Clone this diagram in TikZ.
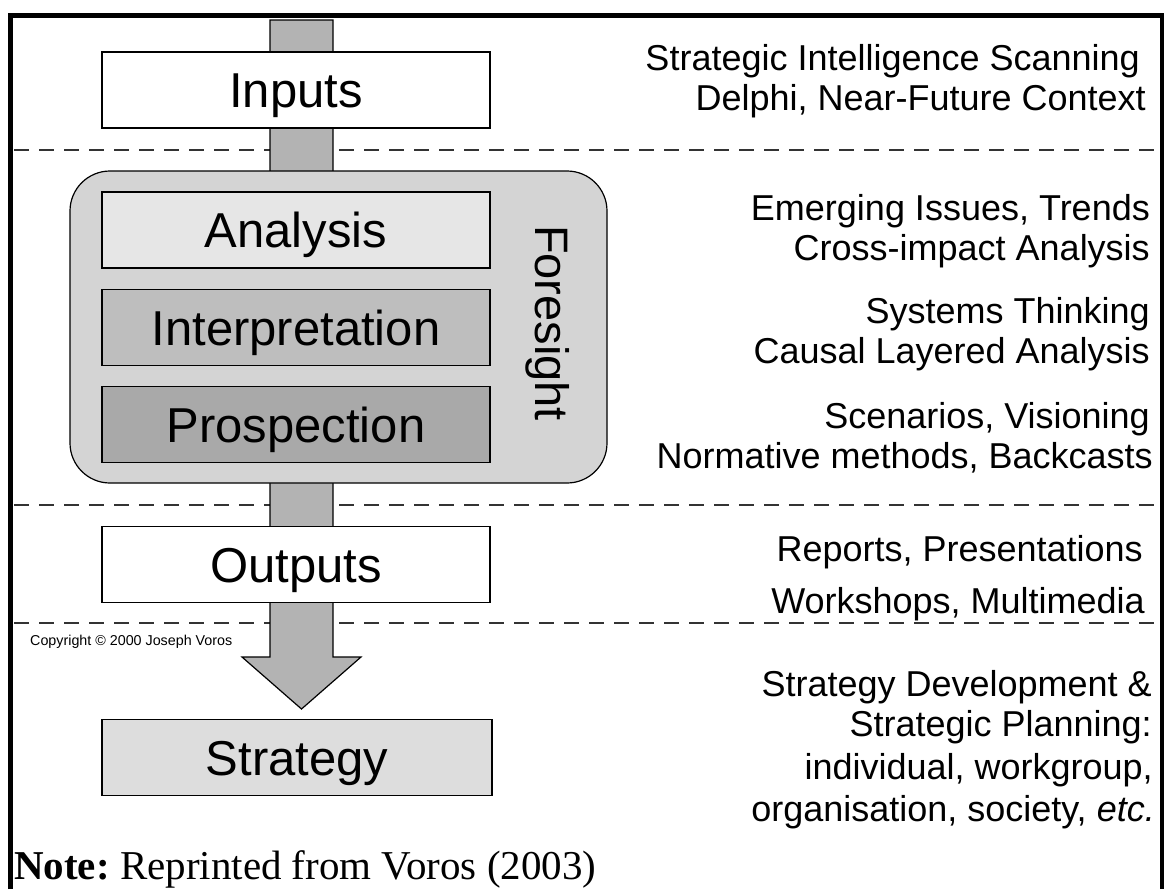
\documentclass[tikz,border=0pt]{standalone}
\usepackage{fontspec}
\setmainfont{Liberation Sans}
\newfontfamily\notefont{Liberation Serif}
\definecolor{barc}{HTML}{B3B3B3}
\definecolor{forec}{HTML}{D4D4D4}
\definecolor{anac}{HTML}{E6E6E6}
\definecolor{intc}{HTML}{BEBEBE}
\definecolor{prosc}{HTML}{A9A9A9}
\definecolor{stratc}{HTML}{DDDDDD}
\begin{document}
\begin{tikzpicture}[x=1pt,y=-1pt,
  lbl/.style={font=\fontsize{49}{55}\selectfont, text height=35pt, text depth=0pt, inner sep=0pt},
  box/.style={draw=black, line width=1.2pt, minimum width=388pt, minimum height=76pt, lbl},
  side/.style={font=\fontsize{36}{40}\selectfont, anchor=base east, inner sep=0pt},
  sepline/.style={draw=black!80, line width=2.5pt, dash pattern=on 15pt off 10pt},
  frame/.style={draw=black, line width=4.5pt}]
\useasboundingbox (0,0) rectangle (1167,889);
% separators
\draw[sepline] (14,150) -- (1160,150);
\draw[sepline] (14,505) -- (1160,505);
\draw[sepline] (14,623) -- (1160,623);
% frame
\draw[frame] (10.5,889) -- (10.5,15.5) -- (1162,15.5) -- (1162,889);
% flow bar with arrow head
\coordinate (bartop) at (301.5,20);
\draw[fill=barc, line width=1.2pt, line join=miter]
  (270,20) -- (333,20) -- (333,657) -- (361,657) -- (301.5,709) -- (242,657) -- (270,657) -- cycle;
% foresight container
\node[draw=black, line width=1.2pt, rounded corners=40pt, fill=forec,
      minimum width=537pt, minimum height=312pt, inner sep=0pt] (foresight) at (338.5,327) {};
% boxes
\node[box, fill=white] (inputs) at (296,90) {Inputs};
\node[box, fill=anac] (analysis) at (296,230) {Analysis};
\node[box, fill=intc] (interp) at (296,327.5) {Interpretation};
\node[box, fill=prosc] (prosp) at (296,424.5) {Prospection};
\node[box, fill=white] (outputs) at (296,564.5) {Outputs};
\node[box, fill=stratc, minimum width=390pt] (strategy) at (297,757.5) {Strategy};
% foresight label
\node[font=\fontsize{47}{52}\selectfont, inner sep=0pt, rotate=-90, anchor=base] (forelbl) at (535,323) {Foresight};
% right-hand texts
\node[side] (t1) at (1140,70) {Strategic Intelligence Scanning};
\node[side] (t2) at (1146,110) {Delphi, Near-Future Context};
\node[side] (t3) at (1150,220) {Emerging Issues, Trends};
\node[side] (t4) at (1150,260) {Cross-impact Analysis};
\node[side] (t5) at (1150,323) {Systems Thinking};
\node[side] (t6) at (1150,363) {Causal Layered Analysis};
\node[side] (t7) at (1150,428) {Scenarios, Visioning};
\node[side] (t8) at (1153,468) {Normative methods, Backcasts};
\node[side] (t9) at (1143,561) {Reports, Presentations};
\node[side] (t10) at (1145,613) {Workshops, Multimedia};
\node[side] (t11) at (1152,696) {Strategy Development \&};
\node[side] (t12) at (1152,736) {Strategic Planning:};
\node[side] (t13) at (1153,779) {individual, workgroup,};
\node[side] (t14) at (1155,821) {organisation, society, \textit{etc.}};
% small texts
\node[font=\fontsize{14.3}{16}\selectfont, anchor=base west, inner sep=0pt] (copy) at (30,645) {Copyright © 2000 Joseph Voros};
\node[font=\notefont\fontsize{41}{45}\selectfont\frenchspacing, anchor=base west, inner sep=0pt] (note) at (14,879) {\textbf{Note:} Reprinted from Voros (2003)};
\end{tikzpicture}
\end{document}
